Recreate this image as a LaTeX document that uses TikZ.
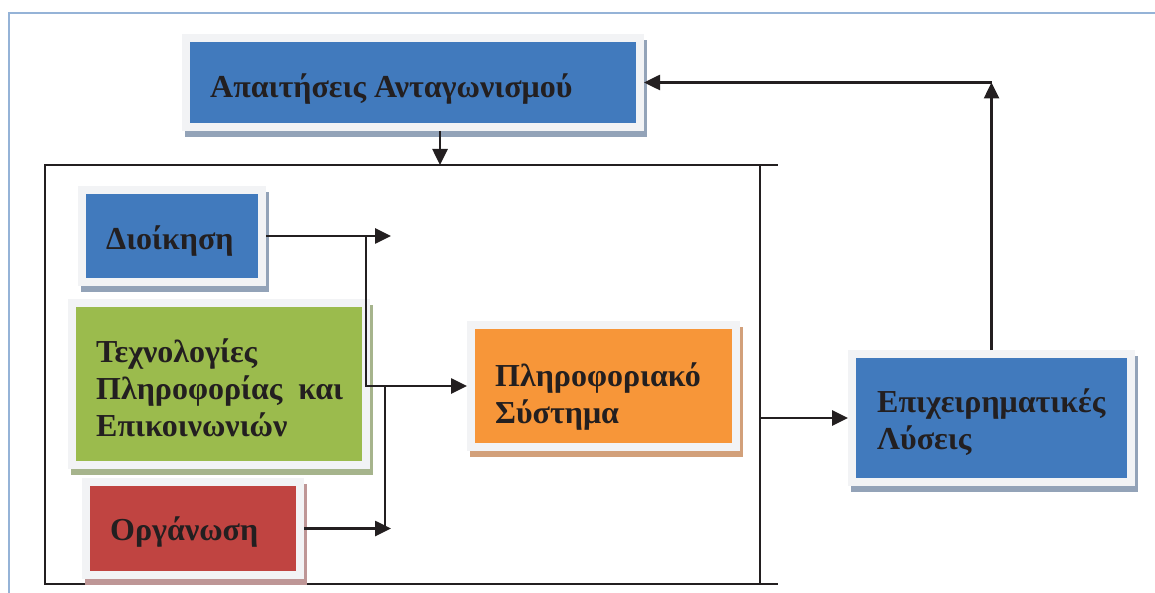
\documentclass[tikz,border=0pt]{standalone}
\usepackage{fontspec}
\setmainfont{Liberation Serif}
\usetikzlibrary{arrows.meta,shadows}
\definecolor{boxblue}{RGB}{65,122,189}
\definecolor{boxgreen}{RGB}{155,187,77}
\definecolor{boxred}{RGB}{192,68,65}
\definecolor{boxorange}{RGB}{247,150,57}
\definecolor{framegray}{RGB}{242,243,245}
\definecolor{shblue}{RGB}{147,163,184}
\definecolor{shgreen}{RGB}{166,180,140}
\definecolor{shred}{RGB}{190,150,150}
\definecolor{shorange}{RGB}{210,160,122}
\definecolor{pageblue}{RGB}{149,179,215}
\definecolor{ink}{RGB}{35,31,32}
\begin{document}
\begin{tikzpicture}[x=1pt,y=-1pt,
  box/.style 2 args={rectangle, fill=#1, inner sep=0pt, outer sep=8pt,
    general shadow={fill=#2, draw=#2, line width=16pt, shadow xshift=3pt, shadow yshift=-6pt},
    preaction={draw=framegray, line width=16pt}},
  lbl/.style={anchor=base west, inner sep=0pt, align=left, text=ink,
    font=\fontsize{32}{37}\selectfont\bfseries},
  arr/.style={-{Triangle[length=16pt,width=15pt]}, line width=2.6pt, ink}]
  \useasboundingbox (0,0) rectangle (1155,593);
  \draw[pageblue, line width=2pt] (9,593) -- (9,13) -- (1155,13);
  % frame round the inputs
  \node[draw=ink, line width=1.8pt, inner sep=0pt, outer sep=0pt,
    minimum width=715pt, minimum height=419pt] (cont) at (402.5,374.5) {};
  \draw[ink, line width=1.8pt] (cont.north east) -- ++(18,0);
  \draw[ink, line width=1.8pt] (cont.south east) -- ++(18,0);
  % boxes
  \node[box={boxblue}{shblue}, minimum width=446pt, minimum height=81pt] (anta) at (413,82.5) {};
  \node[box={boxblue}{shblue}, minimum width=172pt, minimum height=84pt] (dioik) at (172,236) {};
  \node[box={boxgreen}{shgreen}, minimum width=286pt, minimum height=154pt] (tech) at (219,384) {};
  \node[box={boxred}{shred}, minimum width=206pt, minimum height=85pt] (org) at (193,528.5) {};
  \node[box={boxorange}{shorange}, minimum width=257pt, minimum height=114pt] (plir) at (603.5,386) {};
  \node[box={boxblue}{shblue}, minimum width=271pt, minimum height=120pt] (lys) at (991.5,418) {};
  % texts (base = last line)
  \node[lbl] (anta-t) at (210,98) {Απαιτήσεις Ανταγωνισμού};
  \node[lbl] (dioik-t) at (106,250) {Διοίκηση};
  \node[lbl] (tech-t) at (96,436) {Τεχνολογίες\\Πληροφορίας\ \ και\\Επικοινωνιών};
  \node[lbl] (org-t) at (110,540) {Οργάνωση};
  \node[lbl] (plir-t) at (495,423) {Πληροφοριακό\\Σύστημα};
  \node[lbl] (lys-t) at (877,449) {Επιχειρηματικές\\Λύσεις};
  % connectors
  \coordinate (drop) at ([xshift=27pt]anta.south);
  \draw[arr] (drop) -- (drop |- cont.north);
  \draw[arr] (cont.east |- lys.west) -- (lys.west);
  \coordinate (turn) at (lys.north |- anta.east);
  \draw[arr] (lys.north) -- (turn);
  \draw[arr] (turn) -- (anta.east);
  \coordinate (dtip) at (391,236);
  \coordinate (otip) at (391,528.5);
  \coordinate (bus1) at (366,236);
  \coordinate (bus2) at (385,528.5);
  \draw[arr] (dioik.east) -- (dtip);
  \draw[arr] (org.east) -- (otip);
  \draw[arr] (bus1) -- (bus1 |- plir.west) -- (plir.west);
  \draw[ink, line width=2.6pt] (bus2) -- (bus2 |- plir.west);
\end{tikzpicture}
\end{document}
